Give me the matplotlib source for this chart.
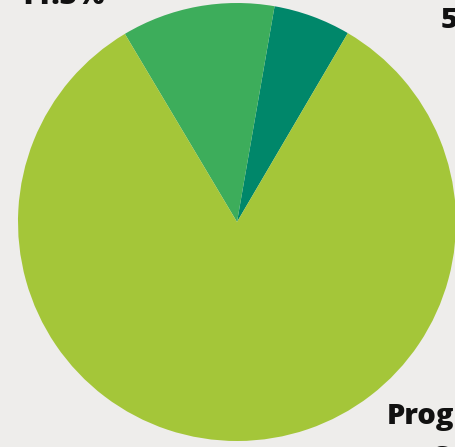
import matplotlib
matplotlib.use("Agg")
import matplotlib.pyplot as plt

# ====== data ======
groups = ["Support", "Other", "Programme Staff"]
shares = [5.7, 11.3, 83.0]
labels = ["5.7%", "11.3%", "Programme"]
colors = ["#00876A", "#3DAD5B", "#A4C639"]

# ====== figure ======
W, H = 455, 447
fig = plt.figure(figsize=(W / 100, H / 100), dpi=100)
fig.patch.set_facecolor("#EEEDEB")

# pie centre ~ (237, 222) px, radius ~ 219 px
cx, cy, r = 237, 222, 219
ax = fig.add_axes([(cx - r) / W, (H - cy - r) / H, 2 * r / W, 2 * r / H])
ax.pie(shares, colors=colors, startangle=59.6, counterclock=True,
       radius=1, wedgeprops=dict(linewidth=0))
ax.set_xlim(-1, 1)
ax.set_ylim(-1, 1)
ax.set_aspect("equal")
ax.axis("off")

# labels (cut off by the crop, like the source image)
font = dict(family=["Open Sans", "DejaVu Sans"], fontweight="heavy",
            fontsize=21, color="#111111")
fig.text(18 / W, 1 - 4.5 / H, labels[1], ha="left", va="baseline", **font)
fig.text(441 / W, 1 - 28 / H, labels[0], ha="left", va="baseline", **font)
fig.text(387 / W, 1 - 424 / H, labels[2], ha="left", va="baseline", **font)
fig.text(433 / W, 1 - 466 / H, "Staff", ha="left", va="baseline", **font)

fig.savefig("out.png", dpi=100, facecolor=fig.get_facecolor())
